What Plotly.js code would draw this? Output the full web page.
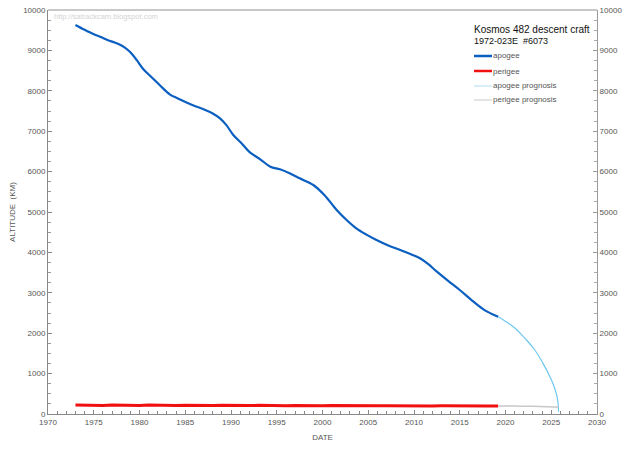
<!DOCTYPE html>
<html>
<head>
<meta charset="utf-8">
<script src="https://cdn.plot.ly/plotly-3.0.1.min.js"></script>
<style>
  html, body { margin: 0; padding: 0; background: #fff; }
  #chart { width: 640px; height: 451px; }
</style>
</head>
<body>
<div id="chart"></div>
<script>
// apogee history (km)
var apogeeYears = [1973.0, 1974.0, 1974.95, 1975.7, 1976.5, 1977.7, 1978.4, 1979.0, 1979.7, 1980.4,
  1981.3, 1982.2, 1983.3, 1984.2, 1985.2, 1986.1, 1987.0, 1988.0, 1988.8, 1989.5,
  1990.25, 1991.2, 1992.1, 1993.2, 1994.3, 1995.35, 1996.4, 1997.5, 1999.0, 2000.2,
  2001.55, 2002.6, 2003.7, 2004.8, 2005.9, 2007.2, 2008.5, 2009.6, 2010.65, 2011.5,
  2012.5, 2013.7, 2015.0, 2016.5, 2017.8, 2019.2];
var apogeeValues = [9630, 9510, 9406, 9340, 9260, 9158, 9070, 8953, 8760, 8540,
  8340, 8143, 7913, 7810, 7706, 7620, 7542, 7440, 7319, 7150,
  6906, 6690, 6468, 6304, 6121, 6057, 5960, 5834, 5668, 5420,
  5050, 4810, 4596, 4440, 4307, 4170, 4059, 3960, 3854, 3720,
  3522, 3300, 3069, 2780, 2560, 2408];

// perigee history (km)
var perigeeYears = [1973, 1974, 1975, 1976, 1977, 1978, 1979, 1980, 1981, 1982,
  1983, 1984, 1985, 1986, 1987, 1988, 1989, 1990, 1991, 1992,
  1993, 1994, 1995, 1996, 1997, 1998, 1999, 2000, 2001, 2002,
  2003, 2004, 2005, 2006, 2007, 2008, 2009, 2010, 2011, 2012,
  2013, 2014, 2015, 2016, 2017, 2018, 2019.2];
var perigeeValues = [222, 214, 224, 212, 222, 213, 221, 212, 220, 211,
  219, 211, 218, 210, 217, 209, 216, 209, 215, 208,
  214, 208, 213, 207, 212, 206, 211, 206, 210, 205,
  209, 204, 208, 203, 207, 203, 206, 202, 205, 201,
  204, 200, 203, 199, 202, 199, 200];

// prognosis (km)
var apogeePrognosisYears = [2019.2, 2020.1, 2021.05, 2022.1, 2023.2, 2024.1, 2024.9, 2025.4, 2025.7, 2025.8];
var apogeePrognosisValues = [2408, 2280, 2121, 1880, 1584, 1254, 900, 620, 347, 57];
var perigeePrognosisYears = [2019.2, 2021.0, 2023.0, 2024.5, 2025.5, 2025.8];
var perigeePrognosisValues = [200, 196, 189, 181, 172, 165];

// legend labels
var seriesNames = ['apogee', 'perigee', 'apogee prognosis', 'perigee prognosis'];
var seriesColors = ['#0a5fc0', '#f01010', '#d8eef8', '#e4e4e4'];

var tickFont = {family: 'Liberation Sans, sans-serif', size: 8, color: '#555'};

var data = [
  {x: apogeeYears, y: apogeeValues, name: seriesNames[0], type: 'scatter', mode: 'lines',
   line: {color: '#0a5fc0', width: 2.2, shape: 'spline', smoothing: 1.0}},
  {x: perigeeYears, y: perigeeValues, name: seriesNames[1], type: 'scatter', mode: 'lines',
   line: {color: '#f01010', width: 3}},
  {x: apogeePrognosisYears, y: apogeePrognosisValues, name: seriesNames[2], type: 'scatter', mode: 'lines',
   line: {color: '#6cc8ee', width: 1.2, shape: 'spline', smoothing: 1.3}},
  {x: perigeePrognosisYears, y: perigeePrognosisValues, name: seriesNames[3], type: 'scatter', mode: 'lines',
   line: {color: '#c8c8c8', width: 1.5, shape: 'spline'}},
  // right-hand copy of the altitude axis
  {x: [1970], y: [0], yaxis: 'y2', type: 'scatter', mode: 'markers', showlegend: false,
   hoverinfo: 'skip', marker: {opacity: 0}}
];

// pixel -> paper helpers for the hand-made legend box
var plotL = 48, plotW = 549, plotB = 414, plotH = 404;
function px(x) { return (x - plotL) / plotW; }
function py(y) { return (plotB - y) / plotH; }

var shapes = [
  {type: 'line', xref: 'paper', yref: 'paper', x0: 0, x1: 1, y0: 1, y1: 1,
   line: {color: '#c8c8c8', width: 2}}
];
var annotations = [
  {xref: 'paper', yref: 'paper', x: px(52), y: py(10), xanchor: 'left', yanchor: 'top', showarrow: false,
   text: 'http://satrackcam.blogspot.com', font: {family: 'Liberation Sans, sans-serif', size: 7.5, color: '#d4d4d4'}},
  {xref: 'paper', yref: 'paper', x: px(472), y: py(29), xanchor: 'left', yanchor: 'middle', showarrow: false,
   text: 'Kosmos 482 descent craft', font: {family: 'Liberation Sans, sans-serif', size: 10, color: '#111'}},
  {xref: 'paper', yref: 'paper', x: px(472), y: py(41), xanchor: 'left', yanchor: 'middle', showarrow: false,
   text: '1972-023E  #6073', font: {family: 'Liberation Sans, sans-serif', size: 9, color: '#111'}}
];
var rowY = [56, 71, 86, 100];
for (var i = 0; i < seriesNames.length; i++) {
  shapes.push({type: 'line', xref: 'paper', yref: 'paper', x0: px(474), x1: px(492), y0: py(rowY[i]), y1: py(rowY[i]),
    line: {color: seriesColors[i], width: i < 2 ? 2.5 : 2}});
  annotations.push({xref: 'paper', yref: 'paper', x: px(491), y: py(rowY[i]), xanchor: 'left', yanchor: 'middle',
    showarrow: false, text: seriesNames[i], font: {family: 'Liberation Sans, sans-serif', size: 8, color: '#555'}});
}

var layout = {
  width: 640, height: 451,
  margin: {l: 48, r: 43, t: 10, b: 37},
  paper_bgcolor: '#fff', plot_bgcolor: '#fff',
  showlegend: false,
  xaxis: {
    range: [1970, 2030], dtick: 5, tick0: 1970, showgrid: false, zeroline: false,
    showline: true, linecolor: '#888', linewidth: 1,
    ticks: 'inside', ticklen: 4, tickcolor: '#888', tickfont: tickFont,
    minor: {dtick: 1, ticks: 'inside', ticklen: 3, tickcolor: '#888'},
    title: {text: 'DATE', font: tickFont, standoff: 8}
  },
  yaxis: {
    range: [0, 10000], dtick: 1000, tickformat: 'd', showgrid: false, zeroline: false,
    showline: true, linecolor: '#888', linewidth: 1,
    ticks: 'inside', ticklen: 4, tickcolor: '#888', tickfont: tickFont,
    minor: {dtick: 250, ticks: 'inside', ticklen: 3, tickcolor: '#999'},
    title: {text: 'ALTITUDE  (KM)', font: tickFont, standoff: 6}
  },
  yaxis2: {
    range: [0, 10000], dtick: 1000, tickformat: 'd', overlaying: 'y', side: 'right', showgrid: false, zeroline: false,
    showline: true, linecolor: '#999', linewidth: 1,
    ticks: 'inside', ticklen: 4, tickcolor: '#999', tickfont: tickFont,
    minor: {dtick: 250, ticks: 'inside', ticklen: 3, tickcolor: '#aaa'}
  },
  shapes: shapes,
  annotations: annotations
};

Plotly.newPlot('chart', data, layout, {staticPlot: true});
</script>
</body>
</html>
